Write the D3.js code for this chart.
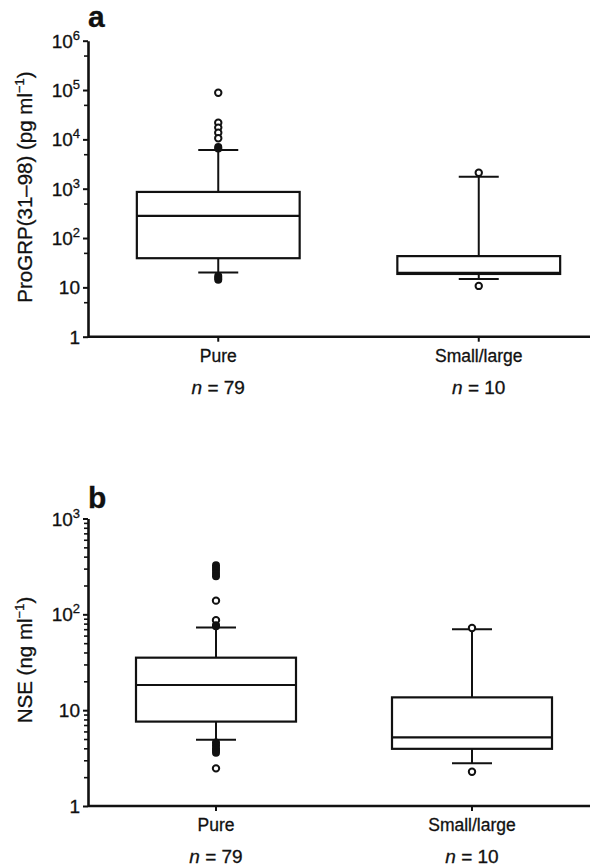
<!DOCTYPE html>
<html>
<head>
<meta charset="utf-8">
<script src="https://cdn.jsdelivr.net/npm/d3@7"></script>
<style>
  body { margin: 0; background: #fff; }
  svg { display: block; }
  text { font-family: "Liberation Sans", Arial, sans-serif; fill: #111; stroke: #111; stroke-width: 0.3px; }
</style>
</head>
<body>
<svg id="chart" width="590" height="867"></svg>
<script>

// Categories and group sizes
const categories = ["Pure", "Small/large"];
const groupSizes = [79, 10];

// Panel a: ProGRP(31-98), pg/ml  [lowerWhisker, q1, median, q3, upperWhisker]
const progrpStats = [
    [20, 39, 280, 860, 6100],
    [14.8, 18.7, 19.8, 43, 1750]
];
const progrpOutliers = [
    [88000, 21800, 17300, 13600, 10500, 7000, 6500, 17, 15.5, 14.3],
    [2100, 10.7]
];
const progrpFilled = [
    [false, false, false, false, false, true, true, true, true, true],
    [false, false]
];

// Panel b: NSE, ng/ml
const nseStats = [
    [4.9, 7.6, 18.3, 35.3, 73],
    [2.8, 3.95, 5.2, 13.6, 70]
];
const nseOutliers = [
    [325, 305, 285, 265, 250, 139, 87, 77, 75, 4.6, 4.3, 4.0, 3.8, 3.6, 2.47],
    [72, 2.28]
];
const nseFilled = [
    [true, true, true, true, true, false, false, true, true, true, true, true, true, true, false],
    [false, false]
];

// Tick values
const progrpMajor = [1, 10, 100, 1e3, 1e4, 1e5, 1e6];
const progrpMinor = [5, 50, 500, 5e3, 5e4, 5e5];
const nseMajor = [1, 10, 100, 1000];
const nseMinor = [2, 3, 4, 5, 6, 7, 8, 9, 20, 30, 40, 50, 60, 70, 80, 90, 200, 300, 400, 500, 600, 700, 800, 900];

const svg = d3.select("#chart");

function drawPanel(cfg) {

    const g = svg.append("g");

    // Scales
    const y = d3.scaleLog().domain(cfg.domain).range([cfg.bottom, cfg.top]);
    const x = d3.scaleBand().domain(categories).range([cfg.left, cfg.right]);
    const boxW = x.bandwidth() * 0.625;
    const capW = 40;

    // Y axis ticks
    g.append("g")
        .attr("transform", `translate(${cfg.left},0)`)
        .call(d3.axisLeft(y).tickValues(cfg.minor).tickFormat("").tickSize(4).tickSizeOuter(0))
        .call(a => a.select(".domain").remove())
        .call(a => a.selectAll("line").attr("stroke", "#111").attr("stroke-width", 1.6));
    g.append("g")
        .attr("transform", `translate(${cfg.left},0)`)
        .call(d3.axisLeft(y).tickValues(cfg.major).tickFormat("").tickSize(5).tickSizeOuter(0))
        .call(a => a.select(".domain").attr("stroke", "#111").attr("stroke-width", 2.6))
        .call(a => a.selectAll("line").attr("stroke", "#111").attr("stroke-width", 2));

    // Tick labels with superscripts
    const labels = g.append("g").selectAll("text")
        .data(cfg.major)
        .join("text")
        .attr("x", cfg.left - 8)
        .attr("y", d => y(d) + 7)
        .attr("text-anchor", "end")
        .style("font-size", "19px");
    labels.each(function(d) {
        const e = Math.round(Math.log10(d));
        const t = d3.select(this);
        if (e < 2) {
            t.text(d);
        } else {
            t.append("tspan").text("10");
            t.append("tspan").attr("dy", -8).style("font-size", "13px").text(e);
        }
    });

    // X axis
    g.append("line")
        .attr("x1", cfg.left).attr("x2", 590)
        .attr("y1", cfg.bottom).attr("y2", cfg.bottom)
        .attr("stroke", "#111").attr("stroke-width", 2.6);
    g.append("g").selectAll("line")
        .data(categories)
        .join("line")
        .attr("x1", d => x(d) + x.bandwidth() / 2).attr("x2", d => x(d) + x.bandwidth() / 2)
        .attr("y1", cfg.bottom).attr("y2", cfg.bottom + 5)
        .attr("stroke", "#111").attr("stroke-width", 2);

    g.append("g").selectAll("text")
        .data(categories)
        .join("text")
        .attr("x", d => x(d) + x.bandwidth() / 2)
        .attr("y", cfg.bottom + 25)
        .attr("text-anchor", "middle")
        .style("font-size", "17.5px")
        .text(d => d);

    const nLabels = g.append("g").selectAll("text")
        .data(groupSizes)
        .join("text")
        .attr("x", (d, i) => x(categories[i]) + x.bandwidth() / 2)
        .attr("y", cfg.bottom + 57)
        .attr("text-anchor", "middle")
        .style("font-size", "19px");
    nLabels.append("tspan").style("font-style", "italic").text("n");
    nLabels.append("tspan").text(d => ` = ${d}`);

    // Boxes
    const boxes = g.append("g").selectAll("g")
        .data(cfg.stats)
        .join("g")
        .attr("transform", (d, i) => `translate(${x(categories[i]) + x.bandwidth() / 2},0)`);

    boxes.append("line")
        .attr("y1", d => y(d[0])).attr("y2", d => y(d[1]))
        .attr("stroke", "#111").attr("stroke-width", 2);
    boxes.append("line")
        .attr("y1", d => y(d[3])).attr("y2", d => y(d[4]))
        .attr("stroke", "#111").attr("stroke-width", 2);
    boxes.selectAll(".cap")
        .data(d => [d[0], d[4]])
        .join("line")
        .attr("class", "cap")
        .attr("x1", -capW / 2).attr("x2", capW / 2)
        .attr("y1", d => y(d)).attr("y2", d => y(d))
        .attr("stroke", "#111").attr("stroke-width", 2);
    boxes.append("rect")
        .attr("x", -boxW / 2).attr("width", boxW)
        .attr("y", d => y(d[3])).attr("height", d => y(d[1]) - y(d[3]))
        .attr("fill", "#fff").attr("stroke", "#111").attr("stroke-width", 2.2);
    boxes.append("line")
        .attr("x1", -boxW / 2).attr("x2", boxW / 2)
        .attr("y1", d => y(d[2])).attr("y2", d => y(d[2]))
        .attr("stroke", "#111").attr("stroke-width", 2.2);

    // Outliers
    boxes.each(function(d, i) {
        d3.select(this).selectAll("circle")
            .data(cfg.outliers[i].map((v, k) => ({ v, filled: cfg.filled[i][k] })))
            .join("circle")
            .attr("cy", o => y(o.v))
            .attr("r", o => o.filled ? 4 : 3.2)
            .attr("fill", o => o.filled ? "#111" : "#fff")
            .attr("stroke", "#111").attr("stroke-width", o => o.filled ? 0 : 2);
    });

    // Y axis title
    const title = g.append("text")
        .attr("transform", `translate(${cfg.titleX},${cfg.titleY}) rotate(-90)`)
        .attr("text-anchor", "middle")
        .style("font-size", "20.5px");
    title.append("tspan").text(cfg.titleMain);
    title.append("tspan").attr("dy", -8).style("font-size", "13px").text("\u22121");
    title.append("tspan").attr("dy", 8).text(")");

    // Panel letter
    g.append("text")
        .attr("x", 88).attr("y", cfg.letterY)
        .style("font-size", "30px").style("font-weight", "900")
        .attr("stroke-width", 0.9)
        .text(cfg.letter);
}

drawPanel({
    letter: "a", letterY: 26.5,
    domain: [1, 1e6], top: 40.7, bottom: 336.7,
    left: 88, right: 609,
    stats: progrpStats, outliers: progrpOutliers, filled: progrpFilled,
    major: progrpMajor, minor: progrpMinor,
    titleMain: "ProGRP(31\u201398) (pg ml", titleX: 32, titleY: 187
});

drawPanel({
    letter: "b", letterY: 507.5,
    domain: [1, 1000], top: 518.5, bottom: 806,
    left: 88, right: 600,
    stats: nseStats, outliers: nseOutliers, filled: nseFilled,
    major: nseMajor, minor: nseMinor,
    titleMain: "NSE (ng ml", titleX: 32, titleY: 660
});

</script>
</body>
</html>
